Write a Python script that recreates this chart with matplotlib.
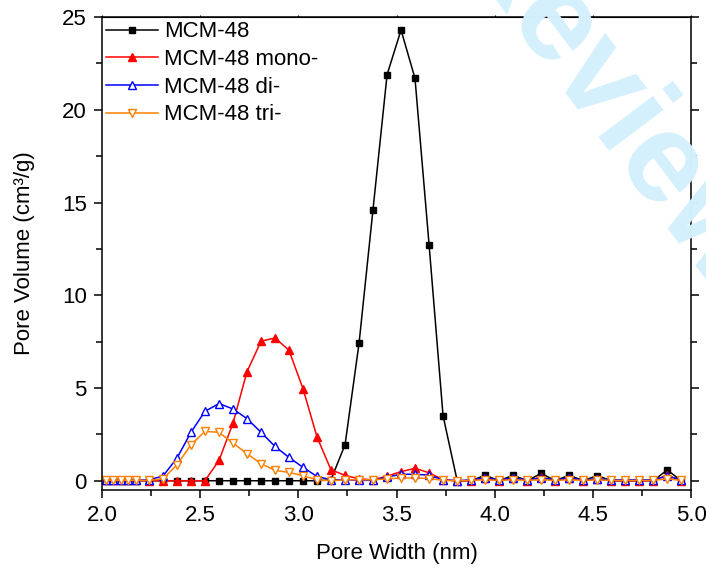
import matplotlib.pyplot as plt
from matplotlib.ticker import MultipleLocator

plt.rcParams['font.family'] = ['Liberation Sans', 'DejaVu Sans']

# pore width grid (nm)
width = [2.020, 2.058, 2.095, 2.134, 2.172,
         2.239, 2.310, 2.382, 2.453, 2.524, 2.596, 2.667, 2.738, 2.810, 2.881,
         2.952, 3.024, 3.095, 3.166, 3.238, 3.309, 3.380, 3.452, 3.523, 3.594,
         3.666, 3.737, 3.809, 3.880, 3.951, 4.023, 4.094, 4.165, 4.237, 4.308,
         4.379, 4.451, 4.522, 4.593, 4.665, 4.736, 4.807, 4.879, 4.950]

mcm48 = [0, 0, 0, 0, 0,
         0, 0, 0, 0, 0, 0, 0, 0, 0, 0,
         0, 0, 0, 0.05, 1.95, 7.4, 14.6, 21.9, 24.3, 21.7,
         12.7, 3.5, 0, 0, 0.3, 0, 0.3, 0, 0.4, 0,
         0.3, 0, 0.28, 0, 0, 0, 0, 0.58, 0]

mono = [0.02, 0.02, 0.02, 0.02, 0.02,
        0, 0, 0, 0, 0, 1.1, 3.1, 5.87, 7.52, 7.7,
        7.04, 4.95, 2.36, 0.59, 0.29, 0.1, 0.05, 0.25, 0.49, 0.67,
        0.43, 0.05, 0, 0, 0.15, 0, 0.15, 0, 0.2, 0,
        0.15, 0, 0.1, 0, 0, 0, 0, 0.3, 0]

di = [0.02, 0.02, 0.02, 0.02, 0.02,
      0.05, 0.25, 1.22, 2.61, 3.74, 4.16, 3.87, 3.35, 2.61, 1.85,
      1.26, 0.72, 0.23, 0.05, 0.05, 0.02, 0.02, 0.2, 0.35, 0.35,
      0.3, 0.05, 0, 0.05, 0.15, 0.05, 0.15, 0.05, 0.15, 0.05,
      0.15, 0.05, 0.1, 0.05, 0.05, 0.05, 0.05, 0.25, 0.05]

tri = [0.02, 0.02, 0.02, 0.02, 0.02,
       0.02, 0.1, 0.86, 1.94, 2.66, 2.61, 2.03, 1.46, 0.92, 0.56,
       0.45, 0.27, 0.05, 0, 0.05, 0.05, 0.05, 0.1, 0.15, 0.15,
       0.12, 0.02, 0, 0.02, 0.05, 0.02, 0.05, 0.02, 0.05, 0.02,
       0.05, 0.02, 0.05, 0.02, 0.02, 0.02, 0.02, 0.1, 0.02]

fig = plt.figure(figsize=(7.06, 5.68), dpi=100)
ax = fig.add_axes([0.1445, 0.1373, 0.8343, 0.8327])
ax.set_facecolor('none')

# faint review watermark behind the plot
fig.text(0.86, 0.815, 'Review', rotation=-53, color='#d4f0fc', fontsize=92,
         fontweight='bold', ha='center', va='center', rotation_mode='anchor', zorder=0)

lw = 1.1
ax.plot(width, mcm48, color='black', lw=lw, marker='s', ms=4.5, label='MCM-48')
ax.plot(width, mono, color='red', lw=lw, marker='^', ms=5.5, label='MCM-48 mono-')
ax.plot(width, di, color='blue', lw=lw, marker='^', ms=5.5, mfc='white', mew=1.0,
        label='MCM-48 di-')
ax.plot(width, tri, color='#ff8000', lw=lw, marker='v', ms=5.5, mfc='white', mew=1.0,
        label='MCM-48 tri-')

ax.set_xlim(2.0, 5.0)
ax.set_ylim(-0.5, 25)
ax.xaxis.set_major_locator(MultipleLocator(0.5))
ax.xaxis.set_minor_locator(MultipleLocator(0.25))
ax.yaxis.set_major_locator(MultipleLocator(5))
ax.yaxis.set_minor_locator(MultipleLocator(2.5))
ax.xaxis.set_major_formatter('{x:.1f}')

ax.tick_params(which='both', direction='out', labelsize=16, width=1.1)
ax.tick_params(which='major', length=6, pad=5)
ax.tick_params(which='minor', length=4)
# short ticks on the top and right frame
ax.secondary_xaxis('top').tick_params(which='both', length=1.5, labeltop=False)
ax.xaxis.set_ticks_position('bottom')
ax.tick_params(axis='y', which='both', right=True)
for s in ax.spines.values():
    s.set_linewidth(1.1)

ax.set_xlabel('Pore Width (nm)', fontsize=16, labelpad=12)
ax.set_ylabel('Pore Volume (cm³/g)', fontsize=16, labelpad=19)

ax.legend(loc='upper left', bbox_to_anchor=(0, 1), frameon=False, fontsize=16,
          borderaxespad=0, borderpad=0.2, handlelength=2.3, handletextpad=0.3,
          labelspacing=0.3, numpoints=1)

fig.savefig('out.png', dpi=100)
